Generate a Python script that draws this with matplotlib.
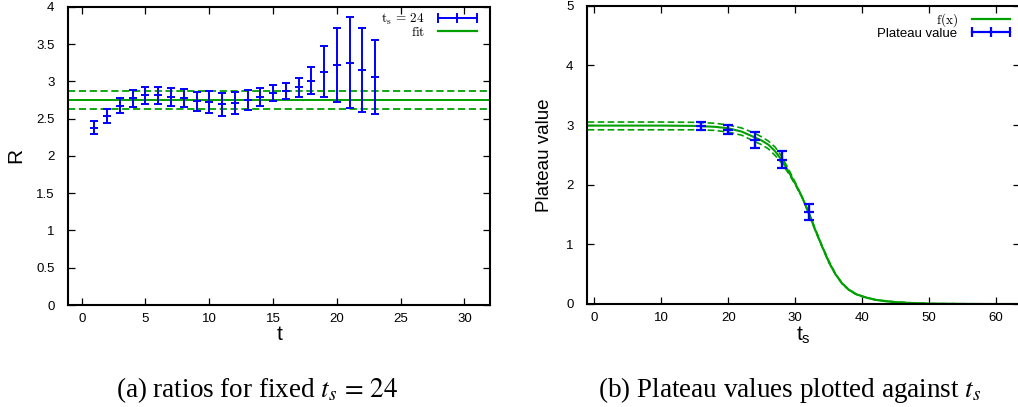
import numpy as np
import matplotlib.pyplot as plt
from matplotlib.lines import Line2D
from matplotlib.ticker import FormatStrFormatter

plt.rcParams['mathtext.fontset'] = 'cm'
narrow = ['Liberation Sans Narrow', 'Liberation Sans']
blue = '#0000ff'
green = '#00a000'

# (a) ratios for fixed t_s = 24
t_vals = np.arange(1, 24)
ratio = [2.38, 2.54, 2.67, 2.77, 2.81, 2.81, 2.79, 2.77, 2.73, 2.72, 2.69, 2.71,
         2.75, 2.79, 2.84, 2.87, 2.92, 3.01, 3.13, 3.22, 3.25, 3.15, 3.06]
ratio_err = [0.09, 0.095, 0.10, 0.11, 0.11, 0.11, 0.115, 0.12, 0.13, 0.145, 0.155, 0.15,
             0.13, 0.12, 0.11, 0.105, 0.125, 0.185, 0.34, 0.50, 0.61, 0.565, 0.50]
fit_val = 2.75
fit_err = 0.125

# (b) plateau values against t_s
ts_vals = [16, 20, 24, 28, 32]
plateau = [2.98, 2.92, 2.75, 2.42, 1.54]
plateau_err = [0.065, 0.075, 0.13, 0.145, 0.13]

# fit curve f(x) and its error band
fx_x = [-1, 0, 5, 10, 15, 18, 20, 22, 24, 25, 26, 27, 28, 29, 30, 31, 32, 33, 34,
        35, 36, 37, 38, 39, 40, 41, 42, 43, 44, 46, 48, 50, 55, 60, 64]
fx_y = [2.99, 2.99, 2.99, 2.99, 2.985, 2.97, 2.945, 2.89, 2.79, 2.74, 2.67, 2.56, 2.41,
        2.22, 2.02, 1.80, 1.53, 1.24, 0.97, 0.71, 0.50, 0.345, 0.24, 0.17, 0.128,
        0.095, 0.07, 0.052, 0.04, 0.022, 0.012, 0.006, 0.001, 0.0, 0.0]
band_x = [-1, 0, 10, 15, 18, 20, 22, 24, 25, 26, 27, 28, 29, 30, 31, 32, 33, 34, 35,
          36, 37, 38, 39, 40, 42, 45, 50, 64]
band_hi = [3.05, 3.05, 3.05, 3.045, 3.03, 3.00, 2.95, 2.86, 2.80, 2.73, 2.63, 2.47, 2.26,
           2.04, 1.80, 1.52, 1.23, 0.96, 0.70, 0.50, 0.34, 0.235, 0.165, 0.125, 0.068,
           0.03, 0.006, 0.0]
band_lo = [2.92, 2.92, 2.92, 2.92, 2.91, 2.88, 2.83, 2.72, 2.67, 2.60, 2.49, 2.36, 2.19,
           2.00, 1.79, 1.54, 1.26, 0.98, 0.73, 0.51, 0.35, 0.245, 0.175, 0.132, 0.072,
           0.035, 0.006, 0.0]

fig = plt.figure(figsize=(10.18, 4.07), dpi=100)
ax1 = fig.add_axes([68.3 / 1018, 0.2506, (490 - 68.3) / 1018, 0.7329])
ax2 = fig.add_axes([587.3 / 1018, 0.2531, (1019.5 - 587.3) / 1018, 0.7329])

# left panel
ax1.errorbar(t_vals, ratio, yerr=ratio_err, fmt='_', color=blue, ms=6, mew=1.4,
             elinewidth=1.4, capsize=2.9, capthick=1.4, zorder=3)
ax1.axhline(fit_val, color=green, lw=1.4, zorder=2)
ax1.axhline(fit_val + fit_err, color=green, lw=1.3, ls=(0, (4, 2)), zorder=2)
ax1.axhline(fit_val - fit_err, color=green, lw=1.3, ls=(0, (4, 2)), zorder=2)
ax1.set_xlim(-1.05, 32.0)
ax1.set_ylim(0, 4)
ax1.set_xticks(np.arange(0, 31, 5))
ax1.set_yticks(np.arange(0, 4.01, 0.5))
ax1.set_xlabel('t', family=narrow, fontsize=15, labelpad=0)
ax1.set_ylabel('R', family=narrow, fontsize=15, labelpad=8)

h1 = [Line2D([], [], color=blue, lw=1.4, marker='|', ms=7, mew=1.4),
      Line2D([], [], color=green, lw=1.6)]
ax1.legend(h1, [r'$\mathrm{t_s}\,=\,24$', r'$\mathrm{fit}$'], loc='upper right',
           numpoints=3, markerfirst=False, frameon=False, fontsize=9.5,
           handlelength=3.5, handletextpad=0.7, labelspacing=-0.1,
           borderaxespad=0.0, bbox_to_anchor=(0.99, 1.0))

# right panel
ax2.plot(band_x, band_hi, color=green, lw=1.2, ls=(0, (4, 2)), zorder=2)
ax2.plot(band_x, band_lo, color=green, lw=1.2, ls=(0, (4, 2)), zorder=2)
ax2.plot(fx_x, fx_y, color=green, lw=1.5, zorder=2)
ax2.errorbar(ts_vals, plateau, yerr=plateau_err, fmt='_', color=blue, ms=7, mew=1.6,
             elinewidth=1.7, capsize=3.3, capthick=1.6, zorder=3)
ax2.set_xlim(-1.05, 63.5)
ax2.set_ylim(0, 5)
ax2.set_xticks(np.arange(0, 61, 10))
ax2.set_yticks(np.arange(0, 6, 1))
ax2.set_xlabel(r'$\mathregular{t_s}$', family=narrow, fontsize=15, labelpad=0)
ax2.set_ylabel('Plateau value', family=narrow, fontsize=13.5, labelpad=9)

h2 = [Line2D([], [], color=green, lw=1.6),
      Line2D([], [], color=blue, lw=1.6, marker='|', ms=7, mew=1.6)]
leg2 = ax2.legend(h2, [r'$\mathrm{f(x)}$', 'Plateau value'], loc='upper right',
                  numpoints=3, markerfirst=False, frameon=False, fontsize=9.5,
                  handlelength=3.5, handletextpad=0.8, labelspacing=-0.1,
                  borderaxespad=0.0, bbox_to_anchor=(1.0, 1.0))
leg2.get_texts()[1].set_family(narrow)

for ax in (ax1, ax2):
    ax.tick_params(direction='in', top=True, right=True, length=5, width=0.9)
    ax.tick_params(axis='x', pad=6)
    ax.tick_params(axis='y', pad=10)
    ax.xaxis.set_major_formatter(FormatStrFormatter('%g'))
    ax.yaxis.set_major_formatter(FormatStrFormatter('%g'))
    for lbl in ax.get_xticklabels() + ax.get_yticklabels():
        lbl.set_family(narrow)
        lbl.set_fontsize(9.5)
    for sp in ax.spines.values():
        sp.set_linewidth(1.5)

fig.text(257 / 1018, 0.0246, r'(a) ratios for fixed $t_s\,=\,24$', ha='center',
         va='baseline', family='Liberation Serif', fontsize=19.5, math_fontfamily='stix')
fig.text(790 / 1018, 0.0246, r'(b) Plateau values plotted against $t_s$', ha='center',
         va='baseline', family='Liberation Serif', fontsize=19.5, math_fontfamily='stix')

fig.savefig('out.png', dpi=100)
